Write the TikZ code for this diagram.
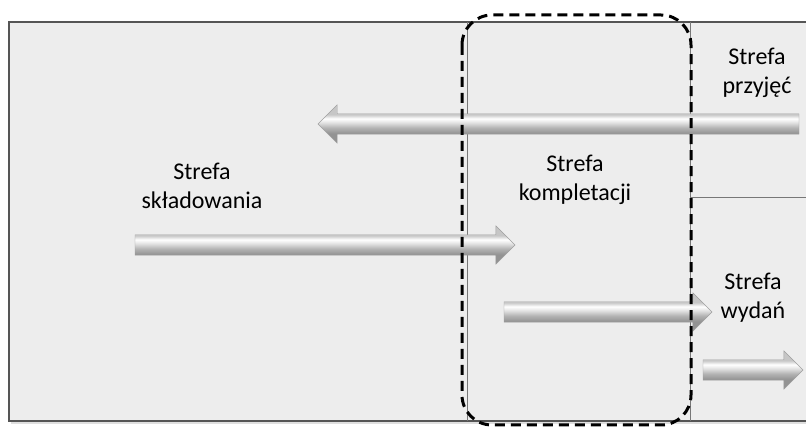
\documentclass[tikz,border=0pt]{standalone}
\usepackage{fontspec}
\setmainfont{Carlito}
\usetikzlibrary{shapes.arrows}
\definecolor{zone-fill}{RGB}{237,237,237}
\definecolor{zone-line}{RGB}{85,85,85}
\pgfdeclareverticalshading{arrow-shade}{100bp}{color(0bp)=(gray!85); color(37.5bp)=(gray!85); color(45bp)=(gray!60); color(52bp)=(gray!22); color(57bp)=(white); color(62.5bp)=(gray!45); color(100bp)=(gray!45)}

\tikzset{
  zone-arrow/.style={single arrow, shading=arrow-shade, draw=gray!75, line width=0.4pt,
    text height=20pt, text depth=0pt, single arrow head extend=9pt, single arrow head indent=0pt,
    inner sep=0pt, outer sep=0pt},
  zone-label/.style={align=center, font=\fontsize{24}{29}\selectfont, inner sep=0pt}
}

\begin{document}
\begin{tikzpicture}[x=1pt,y=-1pt]
\useasboundingbox (0,0) rectangle (806,427);
\clip (0,0) rectangle (806,427);

% zones
\fill[gray!25] (11,24) rectangle (812,424);
\draw[zone-line, line width=1.5pt, fill=zone-fill] (9,22) rectangle (812,421);
\draw[zone-line!80, line width=0.8pt] (467,22) -- (467,421);
\draw[zone-line!80, line width=0.8pt] (690,22) -- (690,421);
\draw[zone-line!80, line width=0.8pt] (690,197) -- (812,197);

% flows
\node[zone-arrow, minimum height=481pt, shape border rotate=180, anchor=tail] (in_arrow) at (799,124) {};
\node[zone-arrow, minimum height=380pt, anchor=tail] (store_arrow) at (135,245) {};
\node[zone-arrow, minimum height=208pt, anchor=tail] (pick_arrow) at (504,312) {};
\node[zone-arrow, minimum height=100pt, anchor=tail] (out_arrow) at (703,370) {};

% picking area
\draw[line width=3pt, dash pattern=on 10pt off 6pt, rounded corners=30pt] (462,15) rectangle (691,425);

\node[zone-label] (in_title) at (757,73) {Strefa\\przyjęć};
\node[zone-label] (pick_title) at (575,180) {Strefa\\kompletacji};
\node[zone-label] (store_title) at (202,186) {Strefa\\składowania};
\node[zone-label] (out_title) at (753,298) {Strefa\\wydań};
\end{tikzpicture}
\end{document}
